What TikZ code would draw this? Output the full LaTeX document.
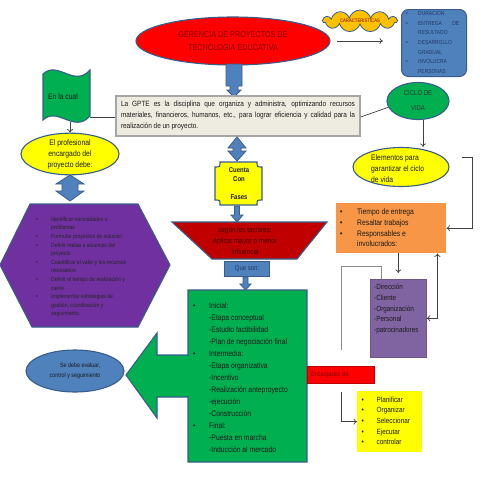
\documentclass[tikz,border=0pt]{standalone}
\usepackage{fontspec}
\setmainfont{Liberation Sans}[FakeStretch=0.85]
\usetikzlibrary{shapes.geometric,shapes.symbols,arrows.meta}
\definecolor{blu}{HTML}{4F81BD}
\definecolor{bdr}{HTML}{385D8A}
\definecolor{grn}{HTML}{00B050}
\definecolor{yel}{HTML}{FFFF00}
\definecolor{purp}{HTML}{7030A0}
\definecolor{purpb}{HTML}{8064A2}
\definecolor{dred}{HTML}{800000}
\definecolor{trap}{HTML}{C00000}
\definecolor{traptext}{HTML}{4A0000}
\definecolor{orng}{HTML}{F79646}
\definecolor{beige}{HTML}{EEECE1}
\definecolor{gold}{HTML}{FFC000}
\definecolor{navy}{HTML}{1F3864}
\definecolor{txt}{HTML}{1A1A1A}
\begin{document}
\begin{tikzpicture}[x=1pt,y=-1pt,
  arr/.style={draw=black!75, line width=0.7pt, -{To[length=3.5pt,width=6pt]}},
  arrboth/.style={draw=black!75, line width=0.7pt, {To[length=3.5pt,width=6pt]}-{To[length=3.5pt,width=6pt]}},
  conn/.style={draw=black!75, line width=0.7pt},
  grayline/.style={draw=black!45, line width=0.9pt},
  blockarrow/.style={fill=blu, draw=bdr, line width=0.8pt},
  shp/.style={draw=bdr, line width=1.1pt},
  ell/.style={ellipse, inner sep=0pt, align=center, shp},
  plain/.style={inner sep=0pt, text=txt}
]
\fill[white] (0,0) rectangle (480,480);
\useasboundingbox (0,0) rectangle (480,480);

% ---- title ellipse
\node[ell, fill=red, minimum width=194pt, minimum height=48pt, text=dred,
      font=\fontsize{8.5}{13}\selectfont] (ger) at (233,41) {GERENCIA DE PROYECTOS DE\\TECNOLOGIA EDUCATIVA};

% ---- cloud
\node[cloud, cloud puffs=11, cloud ignores aspect, fill=gold, draw=bdr, line width=0.8pt,
      minimum width=74pt, minimum height=22pt, inner sep=0pt, text=dred,
      font=\fontsize{5}{6}\selectfont] (car) at (360,21) {CARACTERISTICAS};
\coordinate (a1) at (337,41);
\coordinate (a2) at (383,41);
\draw[arr] (a1) -- (a2);

% ---- blue rounded box
\node[fill=blu, draw=bdr, line width=1pt, rounded corners=7pt, minimum width=65pt, minimum height=67pt,
      anchor=north west, inner sep=0pt] (carb) at (401,9) {};
\node[plain, anchor=north west, text=navy, font=\fontsize{5.8}{9.7}\selectfont] (carbt) at (406,8.5)
 {\begin{tabular}{@{}p{12pt}@{}p{41pt}@{}}
  \textbullet & DURACION\\
  \textbullet & ENTREGA \hfill DE\\
   & RESULTADO\\
  \textbullet & DESARROLLO\\
   & GRADUAL\\
  \textbullet & INVOLUCRA\\
   & PERSONAS
 \end{tabular}};

% ---- blue arrow under title
\path[blockarrow] (226,64) -- (242,64) -- (242,86) -- (238,86) -- (238,90) -- (241,90) -- (234,97)
  -- (227,90) -- (230,90) -- (230,86) -- (226,86) -- cycle;

% ---- GPTE text box
\node[draw=black!35, line width=1.3pt, fill=beige, minimum width=244pt, minimum height=40pt,
      text width=234pt, inner xsep=5pt, align=justify, text=txt,
      font=\fontsize{7.6}{11}\selectfont] (gpte) at (238,116)
 {\hyphenpenalty=10000\exhyphenpenalty=10000 La GPTE es la disciplina que organiza y administra, optimizando recursos\linebreak materiales, financieros, humanos, etc., para lograr eficiencia y calidad para la\linebreak realizaci\'on de un proyecto.};

% ---- green flag
\path[fill=grn, shp] (43,74) .. controls (58,60) and (74,88) .. (90,70) -- (90,116)
  .. controls (74,134) and (58,106) .. (43,120) -- cycle;
\node[plain, font=\fontsize{8}{10}\selectfont] (cual) at (63,97) {En la cual};
\coordinate (flagr) at (90,117);
\coordinate (flagb) at (70,122);
\draw[conn] (flagr) -- (flagr -| gpte.west);

% ---- profesional ellipse
\node[ell, fill=yel, minimum width=98pt, minimum height=32pt, text=txt,
      font=\fontsize{8}{11}\selectfont] (prof) at (70,154) {El profesional\\encargado del\\proyecto debe:};
\draw[arr] (flagb) -- (prof.north);

% ---- left double arrow
\path[blockarrow] (70,175) -- (84,184) -- (78,184) -- (78,191) -- (84,191) -- (70,201)
  -- (56,191) -- (62,191) -- (62,184) -- (56,184) -- cycle;

% ---- hexagon
\path[fill=purp, shp] (30,204) -- (138,204) -- (170,265) -- (138,327) -- (32,327) -- (0,265) -- cycle;
\node[plain, anchor=north west, text=black!85, font=\fontsize{6}{8.6}\selectfont] (hext) at (36,215)
 {\begin{tabular}{@{}p{15pt}@{}l@{}}
  \textbullet & Identificar necesidades o\\
   & problemas\\
  \textbullet & Formular proyectos de soluci\'on\\
  \textbullet & Definir metas o alcances del\\
   & proyecto\\
  \textbullet & Cuantificar el valor y los recursos\\
   & necesarios\\
  \textbullet & Definir el tiempo de realizaci\'on y\\
   & cierre\\
  \textbullet & Implementar estrategias de\\
   & gesti\'on, coordinaci\'on y\\
   & seguimiento.
 \end{tabular}};

% ---- up/down arrow under box
\path[blockarrow] (237,137) -- (246,148) -- (241,148) -- (241,151) -- (246,151) -- (237,161)
  -- (228,151) -- (233,151) -- (233,148) -- (228,148) -- cycle;

% ---- plaque Cuenta con fases
\path[fill=yel, shp] (220,162) -- (257,162) .. controls (257,167) .. (262,167) -- (262,200)
  .. controls (257,200) .. (257,205) -- (220,205) .. controls (220,200) .. (215,200) -- (215,167)
  .. controls (220,167) .. (220,162) -- cycle;
\node[plain, align=center, font=\bfseries\fontsize{7}{9}\selectfont] (fases) at (239,183.5) {Cuenta\\Con\\\mbox{}\\Fases};

% ---- small arrow to trapezoid
\path[blockarrow] (234.5,206) -- (239.5,206) -- (239.5,215) -- (243,215) -- (237,222) -- (231,215)
  -- (234.5,215) -- cycle;

% ---- trapezoid
\path[fill=trap, shp] (172,222) -- (327,222) -- (297,259) -- (212,259) -- cycle;
\node[plain, align=center, text=traptext, font=\fontsize{7.5}{11}\selectfont] (fac) at (245,241)
 {seg\'un los factores:\\Aplicar mayor o menor\\influencia};

% ---- Que son
\node[fill=blu, draw=bdr, line width=0.8pt, minimum width=45pt, minimum height=15pt, inner sep=0pt,
      text=navy, font=\fontsize{7}{8}\selectfont] (que) at (247,269) {Que son:};
\path[blockarrow] (243,277) -- (248,277) -- (248,284) -- (251,284) -- (245.5,290) -- (240,284)
  -- (243,284) -- cycle;

% ---- green box + arrow
\path[fill=grn, shp] (188,290) -- (307,290) -- (307,462) -- (188,462) -- (188,397) -- (157,397)
  -- (157,418) -- (126,375) -- (157,333) -- (157,355) -- (188,355) -- cycle;
\node[plain, anchor=north west, font=\fontsize{8}{12}\selectfont] (fas) at (193,299.5)
 {\begin{tabular}{@{}p{16pt}@{}l@{}}
  \textbullet & Inicial:\\
   & -Etapa conceptual\\
   & -Estudio factibilidad\\
   & -Plan de negociaci\'on final\\
  \textbullet & Intermedia:\\
   & -Etapa organizativa\\
   & -Incentivo\\
   & -Realizaci\'on anteproyecto\\
   & -ejecuci\'on\\
   & -Construcci\'on\\
  \textbullet & Final:\\
   & -Puesta en marcha\\
   & -Inducci\'on al mercado
 \end{tabular}};

% ---- evaluar ellipse
\node[ell, fill=blu, minimum width=98pt, minimum height=42pt, align=right, text=txt,
      font=\fontsize{6.3}{10}\selectfont] (eval) at (75,371) {Se debe evaluar,\\control y seguimiento};

% ---- ciclo de vida
\node[ell, fill=grn, minimum width=62pt, minimum height=37pt, text=black!80,
      font=\fontsize{7}{15}\selectfont] (ciclo) at (418,101) {CICLO DE\\VIDA};
\draw[conn] (ciclo.192) -- (gpte.east |- 0,117);

% ---- elementos ellipse
\node[ell, fill=yel, minimum width=96pt, minimum height=39pt] (elem) at (401,167) {};
\node[plain, anchor=west, align=left, font=\fontsize{8}{11}\selectfont] (elemt) at (371,169)
 {Elementos para\\garantizar el ciclo\\de vida};
\draw[arr] ([xshift=5pt]ciclo.south) -- ([xshift=5pt]ciclo.south |- elem.north);

% ---- orange box
\node[fill=orng, minimum width=110pt, minimum height=50pt, anchor=north west, inner sep=0pt] (org) at (336,203) {};
\node[plain, anchor=north west, font=\fontsize{8}{10.7}\selectfont] (orgt) at (340,207)
 {\begin{tabular}{@{}p{17pt}@{}l@{}}
  \textbullet & Tiempo de entrega\\
  \textbullet & Resaltar trabajos\\
  \textbullet & Responsables e\\
   & involucrados:
 \end{tabular}};
\coordinate (c1) at (462,157);
\draw[arr] (c1) -- (472,157) |- (org.east);

% ---- purple box
\node[fill=purpb, draw=purpb!85!black, line width=0.6pt, minimum width=56pt, minimum height=78pt,
      anchor=north west, inner sep=0pt] (purpb) at (370,279) {};
\node[plain, anchor=north west, font=\fontsize{7.5}{10.7}\selectfont] (purpt) at (374,282)
 {\begin{tabular}{@{}l@{}}
  -Direcci\'on\\ -Cliente\\ -Organizaci\'on\\ -Personal\\ -patrocinadores
 \end{tabular}};
\draw[arr, shorten >=6pt] (org.south -| purpb.north) -- (purpb.north);
\draw[arrboth] (purpb.east) -| ([xshift=-9pt]org.south east);
\coordinate (g1) at (341,350);
\draw[grayline] ([xshift=11pt]purpb.north west) |- (341,266) -- (g1);

% ---- Encargados de
\node[fill=red, draw=red!75!black, line width=0.6pt, minimum width=67pt, minimum height=17pt,
      anchor=north west, inner sep=0pt] (enc) at (307,366) {};
\node[plain, anchor=west, text=dred, font=\fontsize{6.5}{8}\selectfont] (enct) at (311,375) {Encargados de:};

% ---- yellow box
\node[fill=yel, minimum width=65pt, minimum height=61pt, anchor=north west, inner sep=0pt] (yb) at (357,391) {};
\node[plain, anchor=north west, font=\fontsize{7.5}{10.7}\selectfont] (ybt) at (361.5,394.5)
 {\begin{tabular}{@{}p{15pt}@{}l@{}}
  \textbullet & Planificar\\
  \textbullet & Organizar\\
  \textbullet & Seleccionar\\
  \textbullet & Ejecutar\\
  \textbullet & controlar
 \end{tabular}};
\coordinate (e1) at (341,392);
\draw[arr] (e1) |- (yb.west);
\end{tikzpicture}
\end{document}
